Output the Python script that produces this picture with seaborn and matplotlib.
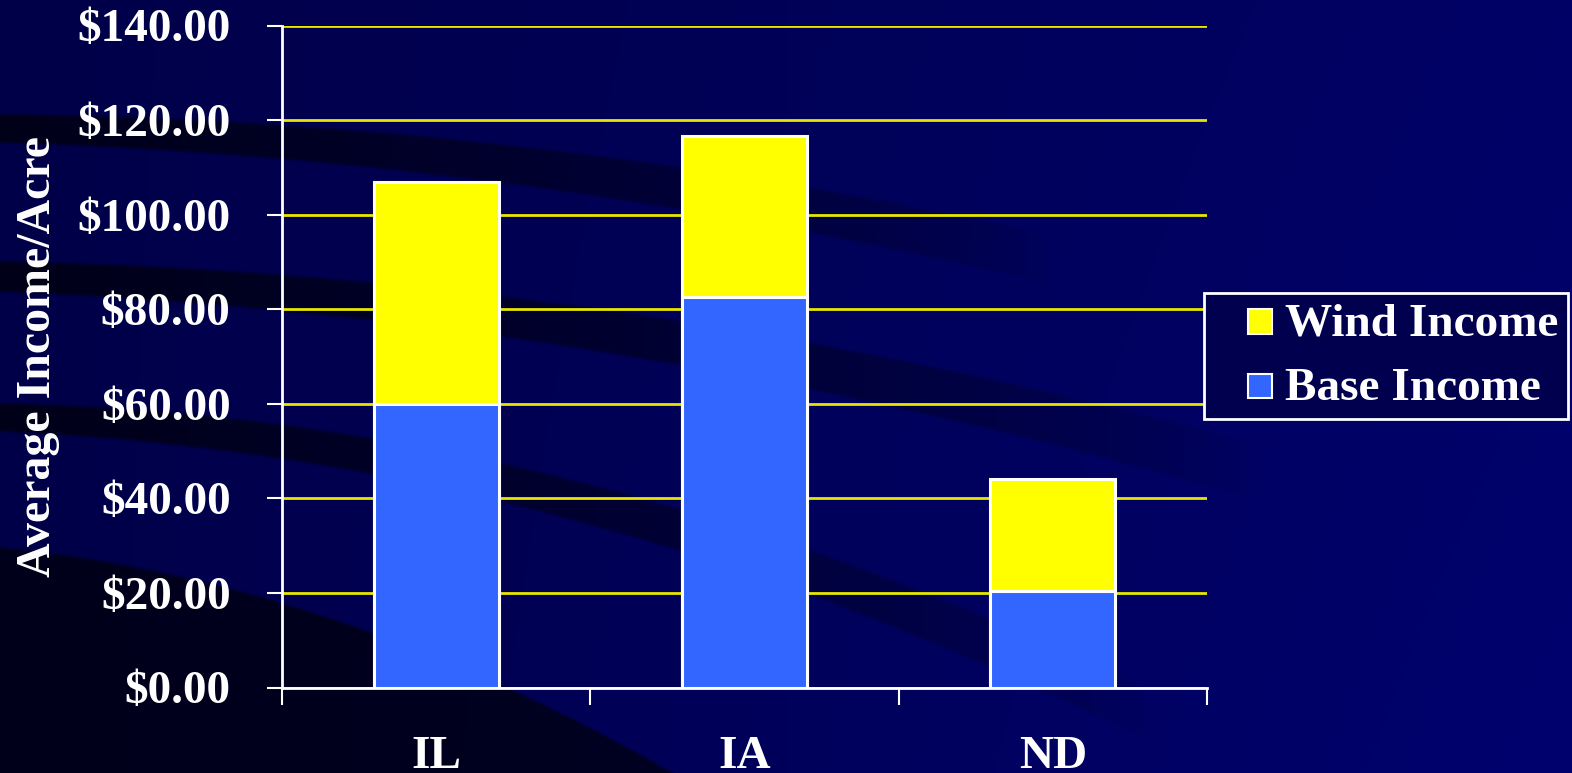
import numpy as np
import pandas as pd
import matplotlib
matplotlib.use("Agg")
import matplotlib.pyplot as plt
import seaborn as sns
from matplotlib.patches import Patch, Rectangle
from matplotlib.legend_handler import HandlerPatch
from matplotlib.ticker import FixedLocator

# ---- data -------------------------------------------------------------
states = ["IL", "IA", "ND"]
base_income = [60.0, 82.6, 20.5]
wind_income = [47.0, 34.0, 23.5]
y_ticks = [0, 20, 40, 60, 80, 100, 120, 140]
y_tick_labels = ["$0.00", "$20.00", "$40.00", "$60.00",
                 "$80.00", "$100.00", "$120.00", "$140.00"]
series_names = ["Wind Income", "Base Income"]

WIND_COLOR = "#FFFF00"
BASE_COLOR = "#3366FF"
GRID_COLOR = "#E6E600"
NAVY = "#00004E"

df = pd.DataFrame({"state": states, "base": base_income, "wind": wind_income})
df["total"] = df["base"] + df["wind"]

sns.set_theme(style="dark")
plt.rcParams["font.family"] = ["Liberation Serif", "DejaVu Serif"]
plt.rcParams["font.weight"] = "bold"

W, H = 1572, 773
fig = plt.figure(figsize=(W / 100, H / 100), dpi=100)

# ---- slide-style background: navy gradient with dark swooshes ----------
bg = fig.add_axes([0, 0, 1, 1], zorder=-10)
bg.set_axis_off()
yy, xx = np.mgrid[0:H, 0:W].astype(float)
blue = 72 + 30 * (xx / W) + 8 * (yy / H) * (xx / W)


def smooth_band(top, bottom, soft=4.0):
    a = np.clip((yy - top) / soft + 0.5, 0, 1)
    b = np.clip((bottom - yy) / soft + 0.5, 0, 1)
    return a * b


dark = np.zeros_like(blue)
# three curved bands sweeping to the right
for y0, lin, quad, thick, fade in [
    (114, 0.010, 0.00010, 28, 1050),
    (261, 0.020, 0.00010, 30, 1250),
    (403, 0.020, 0.00020, 28, 1150),
]:
    top = y0 + lin * xx + quad * xx ** 2
    bottom = top + thick + 0.02 * xx
    strength = np.clip(1 - xx / fade, 0, 1) ** 0.6
    dark = np.maximum(dark, smooth_band(top, bottom) * strength)
# dark lower-left corner
corner_top = 547 + 0.10 * xx + 0.00035 * xx ** 2
dark = np.maximum(dark, np.clip((yy - corner_top) / 4 + 0.5, 0, 1) * 0.95)

blue = blue * (1 - 0.66 * dark)
img = np.zeros((H, W, 3))
img[..., 2] = blue / 255
img[..., 1] = 2 / 255 * (xx / W)
bg.imshow(img, extent=(0, W, H, 0), aspect="auto", interpolation="bilinear")
bg.set_xlim(0, W)
bg.set_ylim(H, 0)

# ---- main axes ---------------------------------------------------------
ax = fig.add_axes([282 / W, 85.5 / H, 925 / W, 662 / H])
ax.set_facecolor("none")

bar_kw = dict(width=0.405, edgecolor="white", linewidth=2.2,
              saturation=1, ax=ax, zorder=3)
sns.barplot(data=df, x="state", y="total", color=WIND_COLOR, **bar_kw)
sns.barplot(data=df, x="state", y="base", color=BASE_COLOR, **bar_kw)

ax.set_xlim(-0.5, len(states) - 0.5)
ax.set_ylim(0, 140)
ax.set_xlabel("")
ax.set_ylabel("Average Income/Acre", color="white", fontsize=34.5,
              fontweight="bold")
ax.yaxis.set_label_coords(-0.240, 0.5)

ax.set_yticks(y_ticks)
ax.set_yticklabels(y_tick_labels)
ax.yaxis.grid(True, color=GRID_COLOR, linewidth=2)
ax.xaxis.grid(False)
ax.set_axisbelow(True)

ax.xaxis.set_minor_locator(FixedLocator(np.arange(-0.5, len(states), 1.0)))
ax.tick_params(axis="y", which="major", direction="out", length=11,
               width=1.5, color="white", pad=26, labelsize=34,
               labelcolor="white", left=True)
ax.tick_params(axis="x", which="major", length=0, pad=35, labelsize=34,
               labelcolor="white", bottom=True)
ax.tick_params(axis="x", which="minor", direction="out", length=12,
               width=1.5, color="white", bottom=True)
for lbl in ax.get_xticklabels() + ax.get_yticklabels():
    lbl.set_fontweight("bold")

for side in ("top", "right"):
    ax.spines[side].set_visible(False)
for side in ("left", "bottom"):
    ax.spines[side].set_visible(True)
    ax.spines[side].set_color("white")
    ax.spines[side].set_linewidth(2)
    ax.spines[side].set_zorder(4)


# ---- legend ------------------------------------------------------------
def right_square(legend, orig_handle, xdescent, ydescent, width, height,
                 fontsize):
    # small square swatch pushed to the right end of the handle box
    s = 17.5
    return Rectangle((width - s - xdescent, -ydescent + (height - s) / 2 - 2),
                     s, s)


handles = [Patch(facecolor=WIND_COLOR, edgecolor="white", linewidth=1.5),
           Patch(facecolor=BASE_COLOR, edgecolor="white", linewidth=1.5)]
leg = fig.legend(handles, series_names, loc="center",
                 bbox_to_anchor=(1386 / W, 1 - 356 / H),
                 fontsize=34, frameon=True, fancybox=False, framealpha=1,
                 facecolor=NAVY, edgecolor="white",
                 handler_map={Patch: HandlerPatch(patch_func=right_square)},
                 handlelength=1.25, handleheight=0.7, handletextpad=0.28,
                 labelspacing=0.45, borderpad=0.2, borderaxespad=0)
leg.get_frame().set_linewidth(2)
for t in leg.get_texts():
    t.set_color("white")
    t.set_fontweight("bold")

fig.savefig("out.png", dpi=100, facecolor=NAVY)
